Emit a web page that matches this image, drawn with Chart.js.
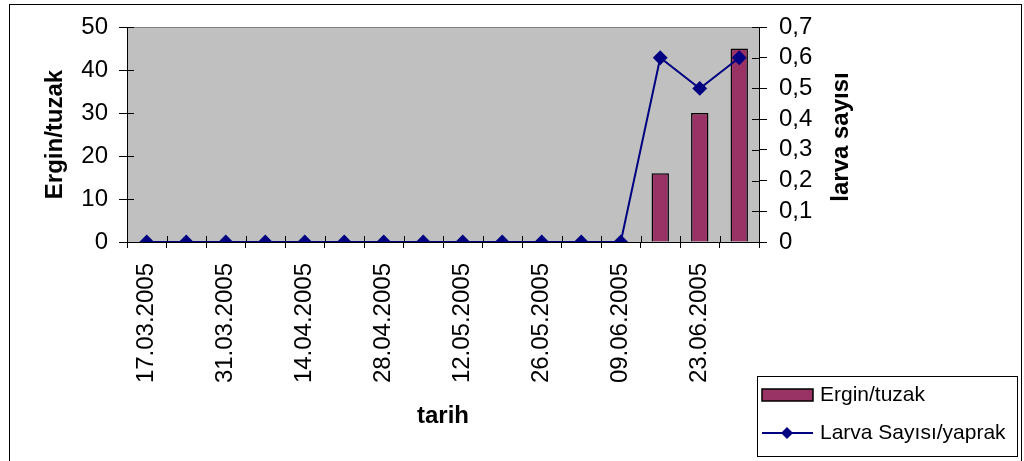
<!DOCTYPE html>
<html>
<head>
<meta charset="utf-8">
<script src="https://cdn.jsdelivr.net/npm/chart.js@4/dist/chart.umd.min.js"></script>
<style>
  html, body { margin: 0; padding: 0; background: #fff; }
  #wrap { position: relative; width: 1024px; height: 461px; }
</style>
</head>
<body>
<div id="wrap"><canvas id="chart" width="1024" height="461"></canvas></div>
<script>
// weekly sampling dates
const dates = [
  '17.03.2005', '24.03.2005', '31.03.2005', '07.04.2005',
  '14.04.2005', '21.04.2005', '28.04.2005', '05.05.2005',
  '12.05.2005', '19.05.2005', '26.05.2005', '02.06.2005',
  '09.06.2005', '16.06.2005', '23.06.2005', '30.06.2005'
];
// adults per trap (left axis)
const erginTuzak = [0, 0, 0, 0, 0, 0, 0, 0, 0, 0, 0, 0, 0, 16, 30, 45];
// larvae per leaf (right axis)
const larvaYaprak = [0, 0, 0, 0, 0, 0, 0, 0, 0, 0, 0, 0, 0, 0.6, 0.5, 0.6];

const FONT = "'Liberation Sans', Arial, sans-serif";
const colors = {
  bar: '#993366',
  line: '#000080',
  plot: '#C0C0C0'
};

// grey plot area + top frame line
const plotBackground = {
  id: 'plotBackground',
  beforeDraw(chart) {
    const { ctx, chartArea: a } = chart;
    ctx.save();
    ctx.fillStyle = colors.plot;
    ctx.fillRect(a.left, a.top, a.right - a.left, a.bottom - a.top);
    ctx.strokeStyle = '#808080';
    ctx.lineWidth = 1;
    ctx.beginPath();
    ctx.moveTo(a.left, a.top + 0.5);
    ctx.lineTo(a.right, a.top + 0.5);
    ctx.stroke();
    ctx.restore();
  }
};

// Excel style "cross" tick marks: draw the inside half
const innerTicks = {
  id: 'innerTicks',
  afterDraw(chart) {
    const { ctx } = chart;
    const x = chart.scales.x, yl = chart.scales.y, yr = chart.scales.y1;
    ctx.save();
    ctx.strokeStyle = '#000';
    ctx.lineWidth = 1;
    ctx.beginPath();
    const n = dates.length;
    for (let i = 0; i <= n; i++) {
      const px = Math.round(x.left + i * x.width / n) + 0.5;
      ctx.moveTo(px, x.top - 6);
      ctx.lineTo(px, x.top);
    }
    yl.ticks.forEach((t, i) => {
      const py = Math.round(yl.getPixelForTick(i)) + 0.5;
      ctx.moveTo(yl.right, py);
      ctx.lineTo(yl.right + 7, py);
    });
    yr.ticks.forEach((t, i) => {
      const py = Math.round(yr.getPixelForTick(i)) + 0.5;
      ctx.moveTo(yr.left - 7, py);
      ctx.lineTo(yr.left, py);
    });
    ctx.stroke();
    ctx.restore();
  }
};

// right axis title reads bottom-to-top, like the left one
const rightTitle = {
  id: 'rightTitle',
  afterDraw(chart) {
    const { ctx } = chart;
    ctx.save();
    ctx.translate(841, 137);
    ctx.rotate(-Math.PI / 2);
    ctx.font = 'bold 24px ' + FONT;
    ctx.fillStyle = '#000';
    ctx.textAlign = 'center';
    ctx.textBaseline = 'middle';
    ctx.fillText('larva sayısı', 0, 0);
    ctx.restore();
  }
};

// boxed legend bottom right + outer chart frame
const boxLegend = {
  id: 'boxLegend',
  afterDraw(chart) {
    const { ctx } = chart;
    const ds = chart.data.datasets;
    ctx.save();
    ctx.strokeStyle = '#000';
    ctx.lineWidth = 1;
    ctx.strokeRect(9.5, 4.5, 1012, 470);
    ctx.fillStyle = '#fff';
    ctx.fillRect(757, 376, 260, 80);
    ctx.strokeRect(757.5, 376.5, 260, 80);

    // bar swatch
    ctx.fillStyle = ds[1].backgroundColor;
    ctx.fillRect(762, 389, 51, 12);
    ctx.lineWidth = 1.5;
    ctx.strokeRect(762, 389, 51, 12);

    // line swatch
    ctx.strokeStyle = ds[0].borderColor;
    ctx.lineWidth = 2;
    ctx.beginPath();
    ctx.moveTo(762, 433);
    ctx.lineTo(813, 433);
    ctx.stroke();
    ctx.fillStyle = ds[0].borderColor;
    ctx.beginPath();
    ctx.moveTo(787, 427);
    ctx.lineTo(793, 433);
    ctx.lineTo(787, 439);
    ctx.lineTo(781, 433);
    ctx.closePath();
    ctx.fill();

    ctx.fillStyle = '#000';
    ctx.font = '21px ' + FONT;
    ctx.textBaseline = 'middle';
    ctx.fillText(ds[1].label, 820, 395);
    ctx.fillText(ds[0].label, 820, 433);
    ctx.restore();
  }
};

new Chart(document.getElementById('chart'), {
  type: 'bar',
  data: {
    labels: dates,
    datasets: [
      {
        type: 'line',
        label: 'Larva Sayısı/yaprak',
        data: larvaYaprak,
        yAxisID: 'y1',
        borderColor: colors.line,
        backgroundColor: colors.line,
        borderWidth: 2,
        pointStyle: 'rectRot',
        pointRadius: 6,
        pointBackgroundColor: colors.line,
        pointBorderColor: colors.line,
        tension: 0,
        order: 0
      },
      {
        label: 'Ergin/tuzak',
        data: erginTuzak,
        yAxisID: 'y',
        backgroundColor: colors.bar,
        borderColor: '#000',
        borderWidth: 1.5,
        categoryPercentage: 1,
        barPercentage: 0.44,
        order: 1
      }
    ]
  },
  options: {
    responsive: false,
    animation: false,
    layout: { padding: { top: 27, left: 0, right: 0, bottom: 0 } },
    plugins: {
      legend: { display: false },
      tooltip: { enabled: false }
    },
    scales: {
      x: {
        grid: { drawOnChartArea: false, tickLength: 6, color: '#000', offset: true },
        border: { color: '#000', width: 1 },
        ticks: {
          autoSkip: false,
          minRotation: 90,
          maxRotation: 90,
          padding: 15,
          color: '#000',
          font: { family: FONT, size: 24 },
          callback: (v, i) => (i % 2 === 0 ? dates[i] : '')
        },
        title: {
          display: true,
          text: 'tarih',
          color: '#000',
          font: { family: FONT, size: 24, weight: 'bold' },
          padding: { top: 0, bottom: 30 }
        },
        afterFit(scale) { scale.height = 219; }
      },
      y: {
        position: 'left',
        min: 0,
        max: 50,
        ticks: {
          stepSize: 10,
          autoSkip: false,
          padding: 11,
          color: '#000',
          font: { family: FONT, size: 24 }
        },
        grid: { drawOnChartArea: false, tickLength: 8, color: '#000' },
        border: { color: '#000', width: 1 },
        title: {
          display: true,
          text: 'Ergin/tuzak',
          color: '#000',
          font: { family: FONT, size: 24, weight: 'bold' },
          padding: { top: 41, bottom: 0 }
        },
        afterFit(scale) { scale.width = 127; }
      },
      y1: {
        position: 'right',
        min: 0,
        max: 0.7,
        ticks: {
          stepSize: 0.1,
          autoSkip: false,
          padding: 12,
          color: '#000',
          font: { family: FONT, size: 24 },
          callback: v => (v === 0 ? '0' : v.toFixed(1).replace('.', ','))
        },
        grid: { drawOnChartArea: false, tickLength: 8, color: '#000' },
        border: { color: '#000', width: 1 },
        afterFit(scale) { scale.width = 265; }
      }
    }
  },
  plugins: [plotBackground, innerTicks, rightTitle, boxLegend]
});
</script>
</body>
</html>
